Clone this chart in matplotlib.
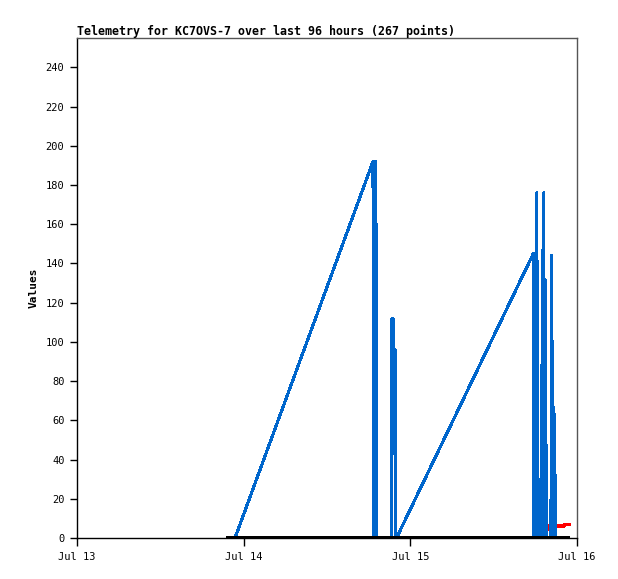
import matplotlib
matplotlib.use("Agg")
import matplotlib.pyplot as plt
import matplotlib.dates as mdates
from datetime import datetime, timedelta

# ---- data (hours after Jul 13 00:00, values) ----
base = datetime(2024, 7, 13)

blue_hours = [22.752, 42.624, 42.710, 42.811, 42.912, 42.998, 43.030, 43.150, 43.171,
              45.302, 45.360, 45.504, 45.547, 45.648, 45.792, 45.835, 46.008,
              65.707, 65.779, 66.182, 66.226, 66.269,
              66.715, 66.744, 66.816, 66.888, 66.960, 67.075, 67.147, 67.219,
              67.291, 67.392, 67.536, 67.579,
              68.256, 68.299, 68.371, 68.515, 68.587, 68.760, 68.832, 68.875,
              68.918, 70.700]
blue_vals = [0, 192, 0, 192, 0, 192, 160, 160, 0,
             0, 112, 112, 43, 96, 96, 0, 0,
             145, 0, 0, 176, 0,
             0, 30, 0, 88, 0, 147, 0, 176,
             0, 132, 44, 0,
             0, 144, 0, 100, 0, 63, 0, 32,
             0, 0]

red_hours = [67.104, 67.248, 67.392, 67.536, 67.680, 67.824, 67.968,
             68.976, 70.128, 70.272, 70.848]
red_vals = [0, 3, 8.3, 7.8, 6.5, 4.6, 6, 6, 6, 7, 7]

black_hours = [21.456, 22.752, 42.624, 45.302, 65.707, 68.918, 70.848]
black_vals = [0, 0, 0, 0, 0, 0, 0]

title = "Telemetry for KC7OVS-7 over last 96 hours (267 points)"
ylabel = "Values"
yticks = list(range(0, 241, 20))


def to_dates(hours):
    return [base + timedelta(hours=h) for h in hours]


fig = plt.figure(figsize=(6.18, 5.79), dpi=100)
ax = fig.add_axes([77 / 618, 41 / 579, 500 / 618, 500 / 579])

mono = "DejaVu Sans Mono"

ax.plot(to_dates(red_hours), red_vals, color="#ff0000", lw=1.8,
        antialiased=False, zorder=1)
ax.plot(to_dates(blue_hours), blue_vals, color="#0066cc", lw=1.5,
        antialiased=False, zorder=2)
ax.plot(to_dates(black_hours), black_vals, color="#000000", lw=2.2,
        antialiased=False, zorder=3, solid_capstyle="butt")

ax.set_xlim(base, base + timedelta(days=3))
ax.set_ylim(0, 255)

ax.xaxis.set_major_locator(mdates.DayLocator())
ax.xaxis.set_major_formatter(mdates.DateFormatter("%b %d"))
ax.set_yticks(yticks)

ax.tick_params(axis="both", direction="out", width=1,
               labelsize=7.5, color="black")
ax.tick_params(axis="x", length=6, pad=4)
ax.tick_params(axis="y", length=5, pad=4)
for lab in ax.get_xticklabels() + ax.get_yticklabels():
    lab.set_fontfamily(mono)

for side in ("left", "bottom"):
    ax.spines[side].set_color("black")
for side in ("top", "right"):
    ax.spines[side].set_color("#555555")
for sp in ax.spines.values():
    sp.set_linewidth(1)

ax.set_ylabel(ylabel, fontfamily=mono, fontweight="bold", fontsize=8, labelpad=5)
ax.text(0, 1.006, title, transform=ax.transAxes, ha="left", va="baseline",
        fontfamily=mono, fontweight="bold", fontsize=8.4)

fig.savefig("out.png", dpi=100)
